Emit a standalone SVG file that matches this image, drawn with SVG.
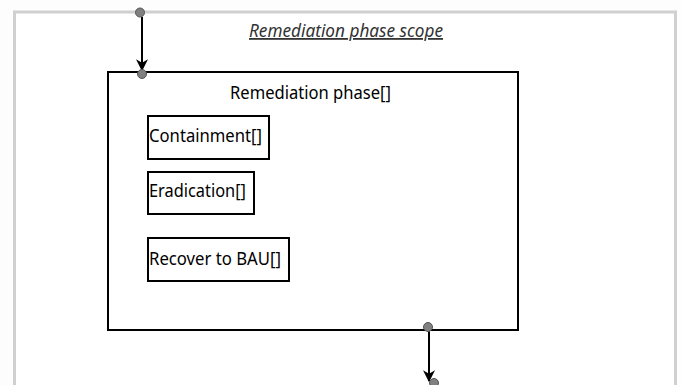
<svg xmlns="http://www.w3.org/2000/svg" width="681" height="385" viewBox="0 0 681 385">
  <style>
    .lbl { font-family: "Noto Sans", "Open Sans", "Liberation Sans", sans-serif; font-size: 18px; fill: #000; }
    .box { fill: #fff; stroke: #000; stroke-width: 2; }
    .port { fill: #808080; stroke: #555; stroke-width: 1; }
    .conn { stroke: #000; stroke-width: 2; fill: none; }
  </style>
  <defs>
    <marker id="arrow" viewBox="0 0 10 10" refX="9" refY="5" markerWidth="6" markerHeight="6" orient="auto" markerUnits="strokeWidth">
      <path d="M0,0 L10,5 L0,10 L3,5 Z" fill="#000"/>
    </marker>
  </defs>

  <!-- canvas -->
  <rect x="0" y="0" width="681" height="385" fill="#fdfdfd"/>
  <rect x="14.5" y="12" width="661" height="380" fill="#fff" stroke="#d0d0d0" stroke-width="3"/>

  <!-- scope title -->
  <g id="scope-title">
    <text class="lbl" x="249" y="37" font-style="italic" text-decoration="underline" textLength="194" lengthAdjust="spacingAndGlyphs" style="fill:#333">Remediation phase scope</text>
  </g>

  <!-- main phase -->
  <g id="remediation-phase">
    <rect class="box" x="108" y="72" width="410" height="258"/>
    <text class="lbl" x="230" y="99" textLength="161" lengthAdjust="spacingAndGlyphs">Remediation phase[]</text>
  </g>

  <g id="containment">
    <rect class="box" x="148" y="116" width="121" height="43"/>
    <text class="lbl" x="149" y="142" textLength="113" lengthAdjust="spacingAndGlyphs">Containment[]</text>
  </g>

  <g id="eradication">
    <rect class="box" x="148" y="172" width="106" height="42"/>
    <text class="lbl" x="149" y="197" textLength="97" lengthAdjust="spacingAndGlyphs">Eradication[]</text>
  </g>

  <g id="recover-bau">
    <rect class="box" x="148" y="238" width="141" height="43"/>
    <text class="lbl" x="149" y="265" textLength="132" lengthAdjust="spacingAndGlyphs">Recover to BAU[]</text>
  </g>

  <!-- connectors -->
  <g id="connectors">
    <line class="conn" x1="142" y1="17" x2="142" y2="70" marker-end="url(#arrow)"/>
    <line class="conn" x1="429" y1="331" x2="429" y2="381" marker-end="url(#arrow)"/>
    <circle class="port" cx="140" cy="12.5" r="4.5"/>
    <circle class="port" cx="142" cy="74" r="4.5"/>
    <circle class="port" cx="428" cy="327" r="4.5"/>
    <circle class="port" cx="434" cy="383" r="4.5"/>
  </g>
</svg>
